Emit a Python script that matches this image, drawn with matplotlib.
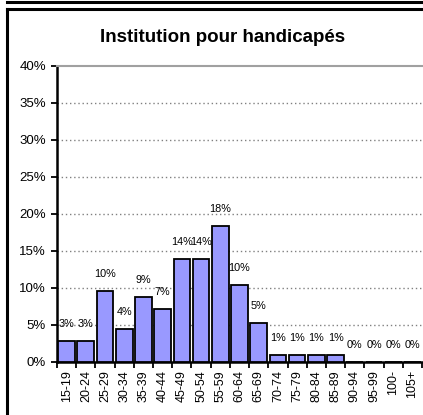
import numpy as np
import matplotlib
matplotlib.use("Agg")
import matplotlib.pyplot as plt
from matplotlib.lines import Line2D

plt.rcParams["font.family"] = ["Liberation Sans", "DejaVu Sans"]

ages = ["15-19", "20-24", "25-29", "30-34", "35-39", "40-44", "45-49", "50-54",
        "55-59", "60-64", "65-69", "70-74", "75-79", "80-84", "85-89", "90-94",
        "95-99", "100-", "105+"]
share = [2.8, 2.8, 9.6, 4.4, 8.8, 7.1, 13.9, 13.9, 18.3, 10.4, 5.2,
         0.95, 0.95, 0.95, 0.95, 0.0, 0.0, 0.0, 0.0]
labels = ["3%", "3%", "10%", "4%", "9%", "7%", "14%", "14%", "18%", "10%", "5%",
          "1%", "1%", "1%", "1%", "0%", "0%", "0%", "0%"]
yticks = [0, 5, 10, 15, 20, 25, 30, 35, 40]

fig = plt.figure(figsize=(4.23, 4.15), dpi=100)
ax = fig.add_axes([57 / 423, 1 - 361.7 / 415, 365 / 423, 295.7 / 415])

x = np.arange(len(ages))
ax.bar(x, share, width=0.87, color="#9999FF", edgecolor="black", linewidth=1.3, zorder=3)

for xi, v, lab in zip(x, share, labels):
    ax.annotate(lab, (xi, v), xytext=(0, 17), textcoords="offset pixels",
                ha="center", va="center", fontsize=7.8, zorder=4)

ax.set_xlim(-0.5, len(ages) - 0.5)
ax.set_ylim(0, 40)
ax.set_yticks(yticks)
ax.set_yticklabels([f"{t}%" for t in yticks], fontsize=9.5)
ax.set_xticks(x)
ax.set_xticklabels(ages, rotation=90, fontsize=9)
ax.tick_params(axis="x", length=0, pad=6)
ax.set_xticks(np.arange(-0.5, len(ages)), minor=True)
ax.tick_params(axis="x", which="minor", length=4, width=1.3, direction="out")
ax.tick_params(axis="y", length=4, width=1.3, pad=4)

for t in yticks[1:-1]:
    ax.axhline(t, color="#808080", linestyle=(0, (1, 2)), linewidth=1, zorder=1)

ax.spines["top"].set_color("#a0a0a0")
ax.spines["top"].set_linewidth(1.5)
ax.spines["right"].set_visible(False)
ax.spines["left"].set_linewidth(1.8)
ax.spines["bottom"].set_linewidth(1.8)

fig.text(223 / 423, 1 - 37 / 415, "Institution pour handicapés", ha="center", va="center",
         fontsize=13.5, fontweight="bold")

# frame lines around the chart area
fig.add_artist(Line2D([7 / 423, 1], [1 - 2.5 / 415, 1 - 2.5 / 415], color="black", linewidth=2.2))
fig.add_artist(Line2D([7 / 423, 1], [1 - 9 / 415, 1 - 9 / 415], color="black", linewidth=2.2))
fig.add_artist(Line2D([7 / 423, 7 / 423], [0, 1 - 9 / 415], color="black", linewidth=2.2))

fig.savefig("out.png", dpi=100)
